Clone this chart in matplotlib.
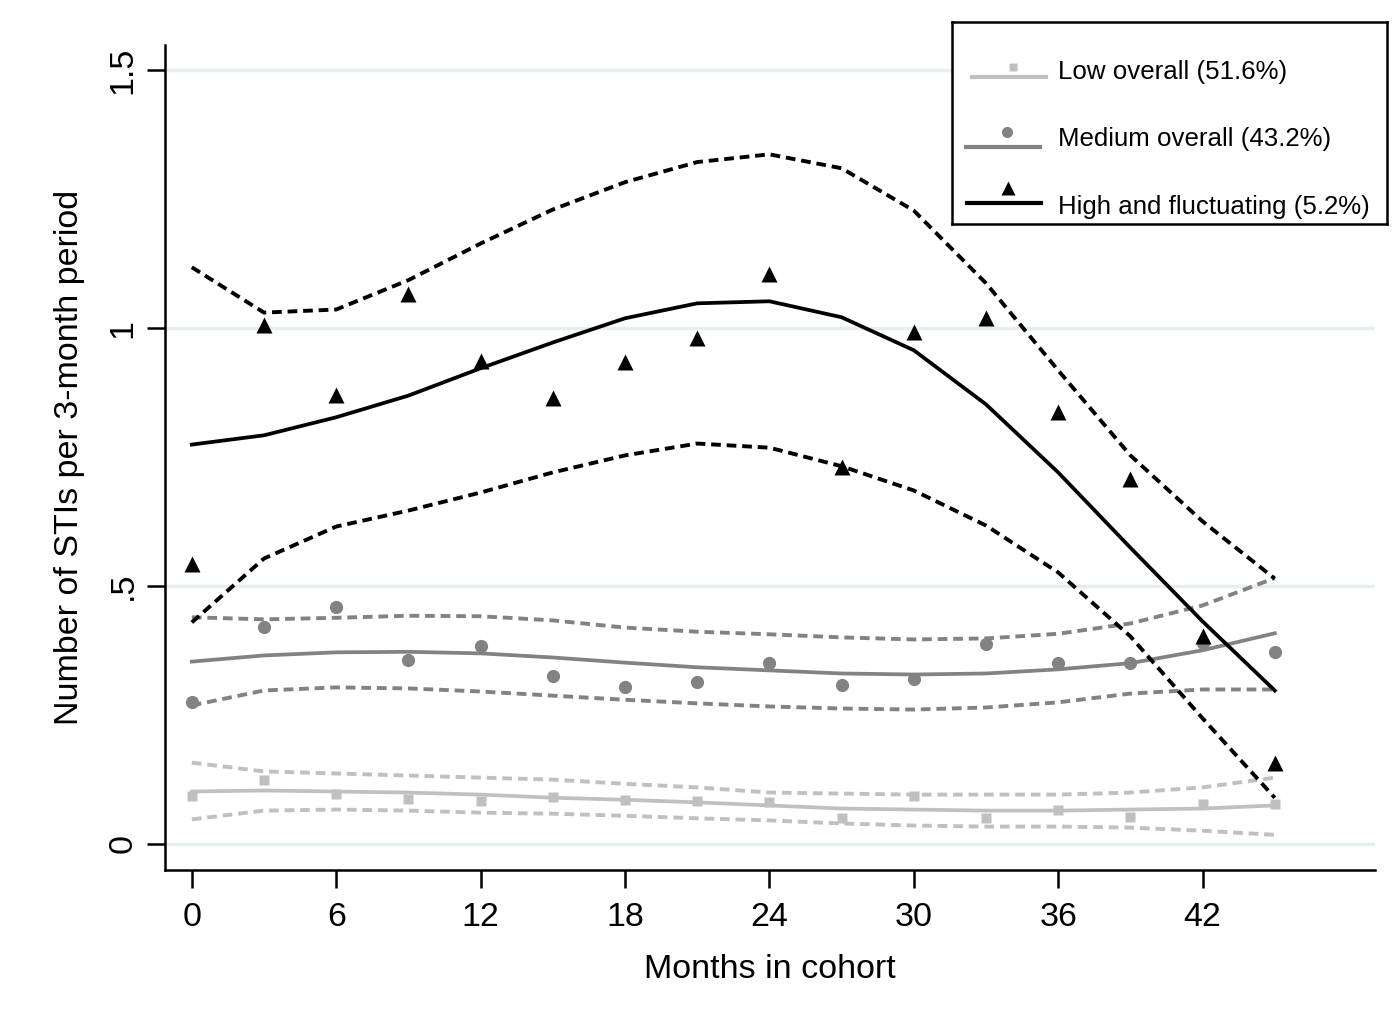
import matplotlib
matplotlib.use("Agg")
import matplotlib.pyplot as plt
import numpy as np

plt.rcParams['font.family'] = ['Liberation Sans', 'DejaVu Sans']

months = [0, 3, 6, 9, 12, 15, 18, 21, 24, 27, 30, 33, 36, 39, 42, 45]

# Low overall
low_obs = [0.093, 0.124, 0.097, 0.087, 0.083, 0.091, 0.085, 0.083, 0.080, 0.049,
           0.093, 0.049, 0.066, 0.052, 0.076, 0.076]
low_fit = [0.101, 0.103, 0.101, 0.099, 0.095, 0.089, 0.085, 0.080, 0.074, 0.068,
           0.066, 0.064, 0.064, 0.066, 0.068, 0.074]
low_hi = [0.157, 0.140, 0.136, 0.132, 0.128, 0.124, 0.116, 0.109, 0.099, 0.097,
          0.095, 0.095, 0.095, 0.099, 0.109, 0.128]
low_lo = [0.047, 0.064, 0.066, 0.064, 0.060, 0.058, 0.054, 0.049, 0.045, 0.039,
          0.035, 0.033, 0.033, 0.031, 0.025, 0.017]

# Medium overall
med_obs = [0.274, 0.421, 0.458, 0.357, 0.384, 0.326, 0.303, 0.314, 0.351, 0.307,
           0.320, 0.388, 0.351, 0.351, 0.390, 0.371]
med_fit = [0.353, 0.365, 0.371, 0.372, 0.369, 0.361, 0.351, 0.342, 0.336, 0.330,
           0.328, 0.330, 0.338, 0.350, 0.375, 0.408]
med_hi = [0.439, 0.435, 0.438, 0.442, 0.441, 0.433, 0.419, 0.411, 0.406, 0.400,
          0.396, 0.398, 0.407, 0.427, 0.462, 0.515]
med_lo = [0.268, 0.297, 0.303, 0.301, 0.295, 0.287, 0.279, 0.272, 0.266, 0.262,
          0.260, 0.264, 0.274, 0.291, 0.299, 0.299]

# High and fluctuating
high_obs = [0.543, 1.005, 0.871, 1.067, 0.937, 0.864, 0.935, 0.980, 1.104, 0.730,
            0.992, 1.019, 0.838, 0.708, 0.402, 0.157]
high_fit = [0.774, 0.792, 0.827, 0.869, 0.922, 0.972, 1.019, 1.048, 1.052, 1.021,
            0.957, 0.852, 0.720, 0.574, 0.431, 0.297]
high_hi = [1.118, 1.030, 1.036, 1.093, 1.164, 1.230, 1.283, 1.322, 1.337, 1.310,
           1.228, 1.087, 0.918, 0.753, 0.625, 0.514]
high_lo = [0.429, 0.553, 0.615, 0.646, 0.681, 0.720, 0.753, 0.776, 0.768, 0.732,
           0.685, 0.617, 0.526, 0.402, 0.243, 0.089]

labels = ["Low overall (51.6%)", "Medium overall (43.2%)", "High and fluctuating (5.2%)"]
colors = ["#c0c0c0", "#828282", "#000000"]
markers = ["s", "o", "^"]
msizes = [7.5, 9.5, 12]

groups = [(low_obs, low_fit, low_hi, low_lo),
          (med_obs, med_fit, med_hi, med_lo),
          (high_obs, high_fit, high_hi, high_lo)]

fig = plt.figure(figsize=(13.97, 10.24), dpi=100)
ax = fig.add_axes([0.118, 0.150, 0.866, 0.806])

dash = (0, (2.5, 1.5))
for (obs, fit, hi, lo), c, m, ms in zip(groups, colors, markers, msizes):
    ax.plot(months, fit, color=c, lw=2.7, zorder=3)
    ax.plot(months, hi, color=c, lw=2.8, ls=dash, zorder=3)
    ax.plot(months, lo, color=c, lw=2.8, ls=dash, zorder=3)
    ax.plot(months, obs, ls='none', marker=m, color=c, ms=ms, mec='none', zorder=4)

ax.set_xlim(-1.12, 49.15)
ax.set_ylim(-0.052, 1.549)
ax.set_xticks(range(0, 43, 6))
ax.set_yticks([0, 0.5, 1, 1.5])
ax.set_yticklabels(["0", ".5", "1", "1.5"], rotation=90, va='center')
ax.yaxis.grid(True, color="#e6eff0", lw=2.4, zorder=0)
ax.set_axisbelow(True)
for s in ['top', 'right']:
    ax.spines[s].set_visible(False)
for s in ['left', 'bottom']:
    ax.spines[s].set_linewidth(1.8)
ax.tick_params(axis='y', length=13, width=1.8, labelsize=24.5, pad=6)
ax.tick_params(axis='x', length=13, width=1.8, labelsize=24.5, pad=10)
ax.set_xlabel("Months in cohort", fontsize=24.5, labelpad=15)
ax.set_ylabel("Number of STIs per 3-month period", fontsize=24.5, labelpad=16)

# legend box drawn by hand (Stata style: marker above the line)
lg = fig.add_axes([952 / 1397, 1 - 224 / 1024, 435 / 1397, 202 / 1024])
lg.set_xlim(0, 435)
lg.set_ylim(202, 0)
lg.set_xticks([])
lg.set_yticks([])
for s in lg.spines.values():
    s.set_linewidth(1.8)
    s.set_color('black')
leg_line_y = [55, 125, 181]
leg_mark_y = [45, 110, 166]
leg_text_y = [50, 117, 185]
leg_x0 = [20, 14, 15]
for i in range(3):
    lg.plot([leg_x0[i], leg_x0[i] + 74], [leg_line_y[i]] * 2, color=colors[i], lw=3)
    lg.plot([leg_x0[i] + 41], [leg_mark_y[i]], marker=markers[i],
            color=colors[i], ms=msizes[i] - 1.5, mec='none')
    lg.text(106, leg_text_y[i], labels[i], fontsize=18.6, va='center', ha='left')

fig.savefig("out.png", dpi=100)
